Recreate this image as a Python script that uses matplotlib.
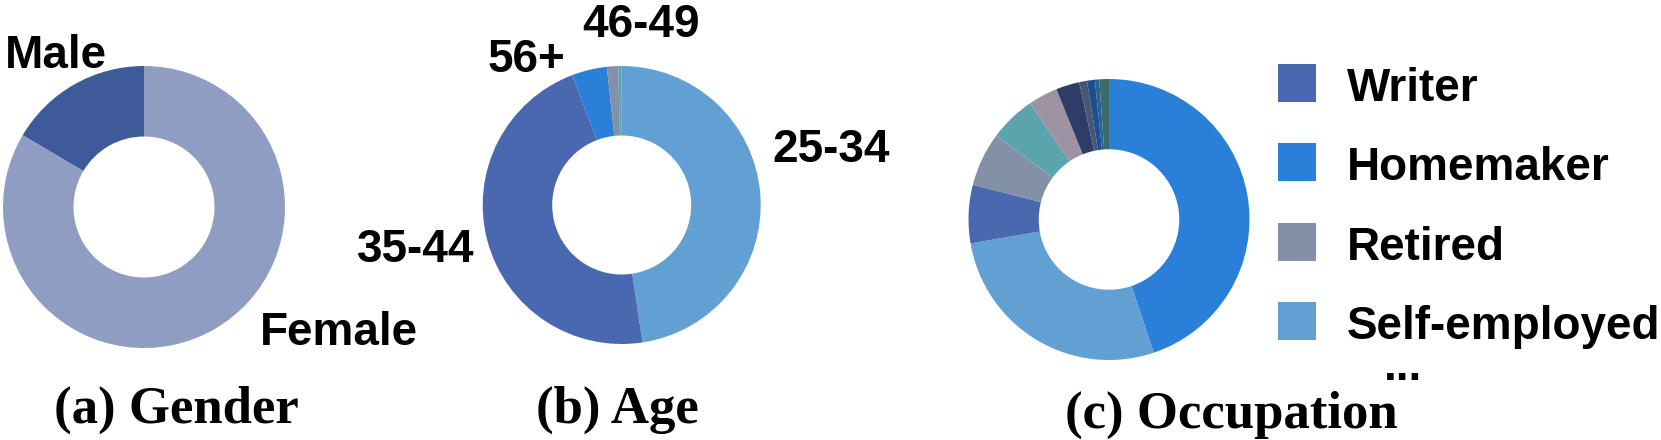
import matplotlib.pyplot as plt
from matplotlib.patches import Rectangle

# data (shares in percent, clockwise from 12 o'clock)
gender_labels = ['Male', 'Female']
gender_values = [16.5, 83.5]
gender_colors = ['#3F5A98', '#909DC3']

age_labels = ['25-34', '35-44', '56+', '46-49', '']
age_values = [47.6, 46.6, 4.1, 1.3, 0.4]
age_colors = ['#629FD2', '#4A68AF', '#2A80D9', '#8290A8', '#5BA3AD']

occ_labels = ['Homemaker', 'Self-employed', 'Writer', 'Retired',
              '', '', '', '', '', '', '']
occ_values = [44.8, 27.4, 6.7, 6.2, 5.3, 3.4, 2.7, 0.9, 0.9, 0.5, 1.1]
occ_colors = ['#2A80D9', '#629FD2', '#4A68AF', '#8290A8', '#5BA3AD',
              '#9E93A3', '#2E3D68', '#4A5675', '#1F4E8C', '#2A6098', '#3C6B6A']
legend_names = ['Writer', 'Homemaker', 'Retired', 'Self-employed']

W, H = 1661, 440
fig = plt.figure(figsize=(W / 100, H / 100), dpi=100)

sans = dict(family='Liberation Sans', weight='bold', size=33)
serif = dict(family='Liberation Serif', weight='bold', size=38)


def fx(x):
    return x / W


def fy(y):
    return 1 - y / H


def donut(cx, cy, r, values, colors):
    ax = fig.add_axes([fx(cx - r), fy(cy + r), 2 * r / W, 2 * r / H])
    wedges, _ = ax.pie(values, colors=colors, startangle=90, counterclock=False,
                       radius=1, wedgeprops=dict(width=0.5, linewidth=0))
    ax.set_xlim(-1, 1)
    ax.set_ylim(-1, 1)
    ax.set_aspect('equal')
    ax.axis('off')
    return wedges


# (a) gender: drawn counterclockwise so Male sits left of 12 o'clock
ax = fig.add_axes([fx(144 - 141), fy(207 + 141), 282 / W, 282 / H])
ax.pie(gender_values, colors=gender_colors, startangle=90, counterclock=True,
       radius=1, wedgeprops=dict(width=0.5, linewidth=0))
ax.set_xlim(-1, 1)
ax.set_ylim(-1, 1)
ax.axis('off')

donut(621.7, 205, 139, age_values, age_colors)
occ_wedges = donut(1109, 219.5, 140.5, occ_values, occ_colors)

# slice labels
fig.text(fx(5), fy(68), gender_labels[0], **sans)
fig.text(fx(260), fy(345), gender_labels[1], **sans)
fig.text(fx(772), fy(162), age_labels[0], **sans)
fig.text(fx(357), fy(262), age_labels[1], **sans)
fig.text(fx(488), fy(72), age_labels[2], **sans)
fig.text(fx(582), fy(37), age_labels[3], **sans)

# legend for occupation
rows = [101, 180, 260, 339]
for name, base in zip(legend_names, rows):
    col = occ_colors[occ_labels.index(name)]
    fig.patches.append(Rectangle((fx(1278), fy(base + 1)), 38 / W, 38 / H,
                                 transform=fig.transFigure, color=col, lw=0))
    fig.text(fx(1347), fy(base), name, **sans)
fig.text(fx(1384), fy(380), '...', **sans)

# sub captions
fig.text(fx(176), fy(423), '(a) Gender', ha='center', **serif)
fig.text(fx(617), fy(423), '(b) Age', ha='center', **serif)
fig.text(fx(1231), fy(428), '(c) Occupation', ha='center', **serif)

fig.savefig('out.png', dpi=100)
